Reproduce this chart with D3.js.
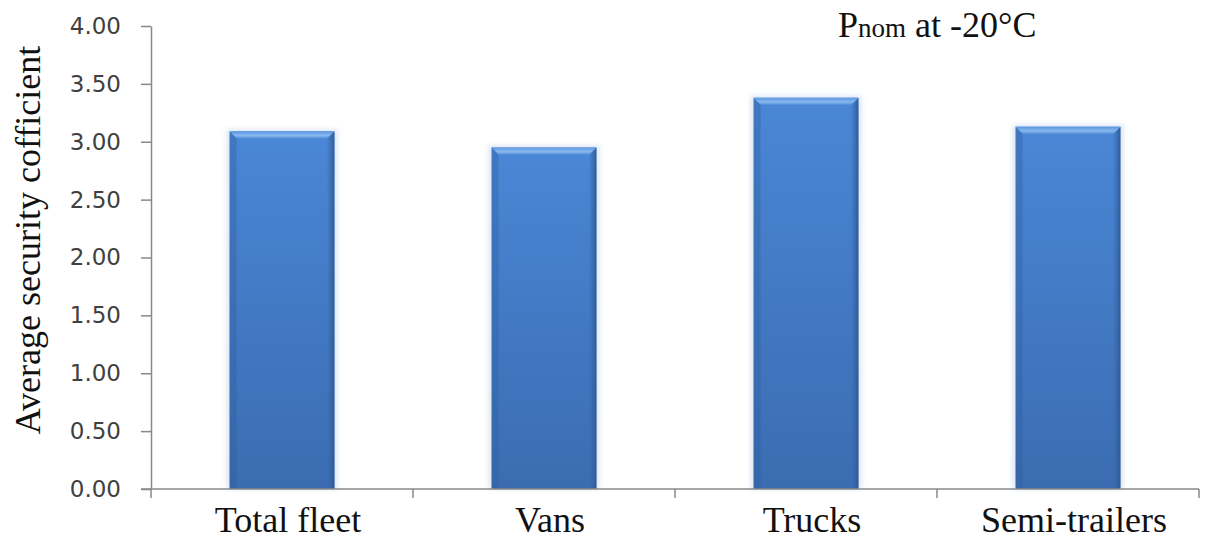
<!DOCTYPE html>
<html>
<head>
<meta charset="utf-8">
<script src="https://cdn.jsdelivr.net/npm/d3@7"></script>
<style>
  body { margin: 0; background: #fff; }
  svg { display: block; }
  .ytick text { font-family: 'DejaVu Sans', sans-serif; font-size: 23px; fill: #404040; }
</style>
</head>
<body>
<div id="chart"></div>
<script>
(function () {

    const categories = ['Total fleet', 'Vans', 'Trucks', 'Semi-trailers'];
    const values = [3.09, 2.95, 3.38, 3.13];
    const yTicks = [0, 0.5, 1, 1.5, 2, 2.5, 3, 3.5, 4];

    const width = 1207;
    const height = 544;
    const axisLeft = 151, axisRight = 1199;
    const axisBottom = 489, axisTop = 26;

    const svg = d3.select('#chart')
        .append('svg')
        .attr('width', width)
        .attr('height', height);

    const defs = svg.append('defs');

    const body = defs.append('linearGradient')
        .attr('id', 'barFill')
        .attr('x1', 0).attr('y1', 0).attr('x2', 0).attr('y2', 1);
    body.append('stop').attr('offset', '0%').attr('stop-color', '#4a87d6');
    body.append('stop').attr('offset', '100%').attr('stop-color', '#3b6cb1');

    const topBevel = defs.append('linearGradient')
        .attr('id', 'topBevel')
        .attr('x1', 0).attr('y1', 0).attr('x2', 0).attr('y2', 1);
    topBevel.append('stop').attr('offset', '0%').attr('stop-color', '#5e98e0');
    topBevel.append('stop').attr('offset', '60%').attr('stop-color', '#86b7ef');
    topBevel.append('stop').attr('offset', '100%').attr('stop-color', '#5a93dc');

    const sideBevel = defs.append('linearGradient')
        .attr('id', 'rightBevel')
        .attr('x1', 0).attr('y1', 0).attr('x2', 1).attr('y2', 0);
    sideBevel.append('stop').attr('offset', '0%').attr('stop-color', '#3a6aad').attr('stop-opacity', 0.2);
    sideBevel.append('stop').attr('offset', '100%').attr('stop-color', '#2c5590').attr('stop-opacity', 0.9);

    const shadow = defs.append('filter').attr('id', 'glow')
        .attr('x', '-10%').attr('y', '-5%').attr('width', '120%').attr('height', '110%');
    shadow.append('feGaussianBlur').attr('stdDeviation', 2.5);

    const x = d3.scaleBand()
        .domain(categories)
        .range([axisLeft, axisRight])
        .paddingInner(0.6)
        .paddingOuter(0.3);

    const y = d3.scaleLinear()
        .domain([0, 4])
        .range([axisBottom, axisTop]);

    // y axis
    const yAxis = svg.append('g')
        .attr('class', 'ytick')
        .attr('transform', `translate(${axisLeft},0)`)
        .call(d3.axisLeft(y)
            .tickValues(yTicks)
            .tickFormat(d3.format('.2f'))
            .tickSize(10)
            .tickPadding(20)
            .tickSizeOuter(0));
    yAxis.attr('font-family', null).attr('font-size', null);
    yAxis.select('.domain').attr('stroke', '#888').attr('stroke-width', 1.5);
    yAxis.selectAll('.tick line').attr('stroke', '#888').attr('stroke-width', 1.5);
    yAxis.selectAll('.tick text').attr('fill', null);

    // bars
    const bars = svg.append('g')
        .selectAll('g')
        .data(values)
        .join('g')
        .attr('transform', (d, i) => `translate(${x(categories[i])},${y(d)})`);

    const bw = x.bandwidth();

    bars.append('rect')
        .attr('x', -3).attr('y', -2)
        .attr('width', bw + 6)
        .attr('height', d => axisBottom - y(d) + 2)
        .attr('fill', '#9ab8dd')
        .attr('opacity', 0.35)
        .attr('filter', 'url(#glow)');

    bars.append('rect')
        .attr('width', bw)
        .attr('height', d => axisBottom - y(d))
        .attr('fill', 'url(#barFill)');

    const bev = 7;
    bars.append('path')
        .attr('d', d => `M0,0 L${bev},${bev} L${bev},${axisBottom - y(d)} L0,${axisBottom - y(d)} Z`)
        .attr('fill', '#2f5c9c')
        .attr('opacity', 0.35);

    bars.append('path')
        .attr('d', d => `M${bw},0 L${bw - bev},${bev} L${bw - bev},${axisBottom - y(d)} L${bw},${axisBottom - y(d)} Z`)
        .attr('fill', 'url(#rightBevel)');

    bars.append('path')
        .attr('d', `M0,0 L${bw},0 L${bw - bev},${bev} L${bev},${bev} Z`)
        .attr('fill', 'url(#topBevel)');

    // x axis
    const step = x.step();
    const boundaries = categories.map(c => x(c) - step * x.paddingOuter());
    boundaries.push(axisRight);

    const xAxis = svg.append('g');
    xAxis.append('line')
        .attr('x1', axisLeft - 10).attr('x2', axisRight)
        .attr('y1', axisBottom).attr('y2', axisBottom)
        .attr('stroke', '#888').attr('stroke-width', 1.5);
    xAxis.selectAll('.xtick')
        .data(boundaries)
        .join('line')
        .attr('class', 'xtick')
        .attr('x1', d => d).attr('x2', d => d)
        .attr('y1', axisBottom).attr('y2', axisBottom + 9)
        .attr('stroke', '#888').attr('stroke-width', 1.5);

    xAxis.selectAll('.xlabel')
        .data(categories)
        .join('text')
        .attr('class', 'xlabel')
        .attr('x', d => x(d) + bw / 2 + 6)
        .attr('y', 532)
        .attr('text-anchor', 'middle')
        .attr('fill', '#111')
        .style('font-family', '"Liberation Serif", "Times New Roman", serif')
        .style('font-size', '36px')
        .text(d => d);

    // y label
    svg.append('text')
        .attr('transform', 'translate(40,240) rotate(-90)')
        .attr('text-anchor', 'middle')
        .attr('fill', '#111')
        .style('font-family', '"Liberation Serif", "Times New Roman", serif')
        .style('font-size', '36px')
        .text('Average security cofficient');

    // title
    const title = svg.append('text')
        .attr('x', 838)
        .attr('y', 37)
        .attr('fill', '#111')
        .style('font-family', '"Liberation Serif", "Times New Roman", serif')
        .style('font-size', '36px');
    title.append('tspan').text('P');
    title.append('tspan').style('font-size', '27px').text('nom');
    title.append('tspan').text(' at -20°C');

})();
</script>
</body>
</html>
